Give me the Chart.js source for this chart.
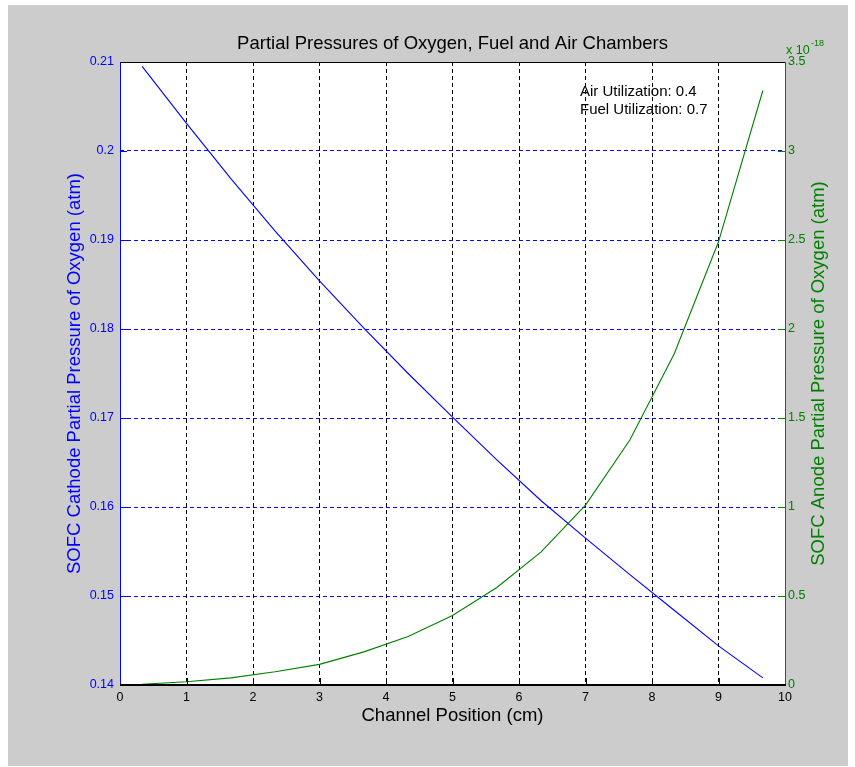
<!DOCTYPE html>
<html><head><meta charset="utf-8">
<script src="https://cdn.jsdelivr.net/npm/chart.js@4.4.1/dist/chart.umd.min.js"></script>
<style>html,body{margin:0;padding:0;background:#fff;overflow:hidden}canvas{display:block}</style>
</head><body>
<canvas id="c" width="855" height="767"></canvas>
<script>
const FONT = '"Liberation Sans", Arial, Helvetica, sans-serif';

// ---- data ----
const channelPos = [0.333, 1.0, 1.667, 2.333, 3.0, 3.667, 4.333, 5.0, 5.667, 6.333, 7.0, 7.667, 8.333, 9.0, 9.667];
const cathodeO2 = [0.2095, 0.2031, 0.1969, 0.1910, 0.1854, 0.1801, 0.1750, 0.1701, 0.1653, 0.1607, 0.1565, 0.1524, 0.1484, 0.1444, 0.1408];
const anodeO2e18 = [0.004, 0.018, 0.040, 0.074, 0.116, 0.186, 0.272, 0.390, 0.548, 0.748, 1.011, 1.376, 1.86, 2.49, 3.34]; // x 10^-18 atm

const xTicks = [0, 1, 2, 3, 4, 5, 6, 7, 8, 9, 10];
const leftTicks = [0.14, 0.15, 0.16, 0.17, 0.18, 0.19, 0.20, 0.21];
const rightTicks = [0, 0.5, 1, 1.5, 2, 2.5, 3, 3.5];

const titleText = 'Partial Pressures of Oxygen, Fuel and Air Chambers';
const xTitle = 'Channel Position (cm)';
const leftTitle = 'SOFC Cathode Partial Pressure of Oxygen (atm)';
const rightTitle = 'SOFC Anode Partial Pressure of Oxygen (atm)';
const noteLines = ['Air Utilization: 0.4', 'Fuel Utilization: 0.7'];
const exponentBase = 'x 10';
const exponentPow = '-18';

const BLUE = '#0000ff', GREEN = '#008000', GRAY = '#cccccc';

Chart.defaults.font.family = FONT;

const frame = {
  id: 'frame',
  beforeDraw(chart) {
    const ctx = chart.ctx, a = chart.chartArea;
    ctx.save();
    ctx.fillStyle = '#ffffff';
    ctx.fillRect(0, 0, chart.width, chart.height);
    ctx.fillStyle = GRAY;
    ctx.fillRect(8, 5, 840, 761);
    ctx.fillStyle = '#ffffff';
    ctx.fillRect(a.left, a.top, a.right - a.left, a.bottom - a.top);
    ctx.restore();
  },
  afterDraw(chart) {
    const ctx = chart.ctx, a = chart.chartArea;
    const sx = chart.scales.x, sy = chart.scales.y, sy1 = chart.scales.y1;
    ctx.save();
    ctx.lineWidth = 1;
    // inward tick marks
    ctx.strokeStyle = '#000';
    sx.ticks.forEach(t => {
      const px = Math.round(sx.getPixelForValue(t.value)) + 0.5;
      ctx.beginPath(); ctx.moveTo(px, a.bottom); ctx.lineTo(px, a.bottom - 7); ctx.stroke();
    });
    ctx.strokeStyle = BLUE;
    sy.ticks.forEach(t => {
      const py = Math.round(sy.getPixelForValue(t.value)) + 0.5;
      ctx.beginPath(); ctx.moveTo(a.left, py); ctx.lineTo(a.left + 7, py); ctx.stroke();
    });
    ctx.strokeStyle = GREEN;
    sy1.ticks.forEach(t => {
      const py = Math.round(sy1.getPixelForValue(t.value)) + 0.5;
      ctx.beginPath(); ctx.moveTo(a.right, py); ctx.lineTo(a.right - 7, py); ctx.stroke();
    });
    // axis lines
    ctx.strokeStyle = '#000';
    ctx.beginPath(); ctx.moveTo(a.left, a.top + 0.5); ctx.lineTo(a.right, a.top + 0.5); ctx.stroke();
    ctx.strokeStyle = BLUE;
    ctx.beginPath(); ctx.moveTo(a.left + 0.5, a.top); ctx.lineTo(a.left + 0.5, a.bottom); ctx.stroke();
    ctx.strokeStyle = GREEN;
    ctx.beginPath(); ctx.moveTo(a.right + 0.5, a.top); ctx.lineTo(a.right + 0.5, a.bottom); ctx.stroke();
    ctx.strokeStyle = '#000';
    ctx.lineWidth = 2;
    ctx.beginPath(); ctx.moveTo(a.left, a.bottom); ctx.lineTo(a.right + 1, a.bottom); ctx.stroke();

    // right axis title (reads bottom to top)
    ctx.fillStyle = GREEN;
    ctx.font = '18.5px ' + FONT;
    ctx.textAlign = 'center';
    ctx.textBaseline = 'middle';
    ctx.translate(819, (a.top + a.bottom) / 2);
    ctx.rotate(-Math.PI / 2);
    ctx.fillText(rightTitle, 0, 0);
    ctx.setTransform(1, 0, 0, 1, 0, 0);

    // exponent label
    ctx.textAlign = 'left';
    ctx.font = '12.5px ' + FONT;
    ctx.fillText(exponentBase, a.right + 1, a.top - 11);
    ctx.font = '9px ' + FONT;
    ctx.fillText(exponentPow, a.right + 26, a.top - 18);

    // annotation
    ctx.fillStyle = '#000';
    ctx.font = '15px ' + FONT;
    ctx.fillText(noteLines[0], 580, 92);
    ctx.fillText(noteLines[1], 580, 110);
    ctx.restore();
  }
};

new Chart(document.getElementById('c'), {
  type: 'line',
  data: {
    datasets: [
      {
        label: 'Cathode',
        data: channelPos.map((x, i) => ({ x, y: cathodeO2[i] })),
        borderColor: BLUE, borderWidth: 1.1, pointRadius: 0, fill: false, tension: 0,
        xAxisID: 'x', yAxisID: 'y'
      },
      {
        label: 'Anode',
        data: channelPos.map((x, i) => ({ x, y: anodeO2e18[i] })),
        borderColor: GREEN, borderWidth: 1.1, pointRadius: 0, fill: false, tension: 0,
        xAxisID: 'x', yAxisID: 'y1'
      }
    ]
  },
  options: {
    responsive: false,
    animation: false,
    devicePixelRatio: 1,
    layout: { padding: 0 },
    plugins: {
      legend: { display: false },
      tooltip: { enabled: false },
      title: {
        display: true, text: titleText, color: '#000', fullSize: false,
        font: { size: 18.5, weight: 'normal', family: FONT },
        padding: { top: 32.9, bottom: 6.9 }
      }
    },
    scales: {
      x: {
        type: 'linear', position: 'bottom', min: 0, max: 10,
        afterBuildTicks(s) { s.ticks = xTicks.map(v => ({ value: v })); },
        afterFit(s) { s.height = 82; },
        ticks: { color: '#000', font: { size: 12.5 }, padding: 5, maxRotation: 0, autoSkip: false,
                 callback: v => String(v) },
        grid: { color: '#000', lineWidth: 1, drawTicks: false },
        border: { display: false, dash: [4, 3] },
        title: { display: true, text: xTitle, color: '#000', font: { size: 18.5 }, padding: { top: 0, bottom: 39.9 } }
      },
      y: {
        type: 'linear', position: 'left', min: 0.14, max: 0.21,
        afterBuildTicks(s) { s.ticks = leftTicks.map(v => ({ value: v })); },
        afterFit(s) { s.width = 120; },
        ticks: { color: BLUE, font: { size: 12.5 }, padding: 6, autoSkip: false,
                 callback: v => String(+v.toFixed(2)) },
        grid: { color: BLUE, lineWidth: 1, drawTicks: false },
        border: { display: false, dash: [4, 3] },
        title: { display: true, text: leftTitle, color: BLUE, font: { size: 18.5 }, padding: { top: 63.9, bottom: 0 } }
      },
      y1: {
        type: 'linear', position: 'right', min: 0, max: 3.5,
        afterBuildTicks(s) { s.ticks = rightTicks.map(v => ({ value: v })); },
        afterFit(s) { s.width = 70; },
        ticks: { color: GREEN, font: { size: 12.5 }, padding: 3, autoSkip: false,
                 callback: v => String(+v.toFixed(1)) },
        grid: { display: false, drawTicks: false },
        border: { display: false }
      }
    }
  },
  plugins: [frame]
});
</script>
</body></html>
